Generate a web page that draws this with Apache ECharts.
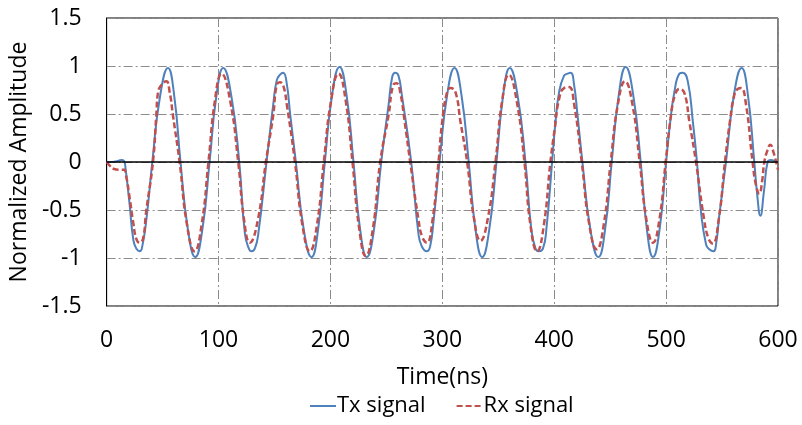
<!DOCTYPE html>
<html>
<head>
<meta charset="utf-8">
<script src="https://cdn.jsdelivr.net/npm/echarts@6/dist/echarts.min.js"></script>
<style>
html,body{margin:0;padding:0;background:#fff;}
#chart{width:802px;height:425px;}
</style>
</head>
<body>
<div id="chart"></div>
<script>
// Time axis (ns) ticks and amplitude ticks
const xTicks = [0, 100, 200, 300, 400, 500, 600];
const yTicks = [-1.5, -1, -0.5, 0, 0.5, 1, 1.5];
const seriesNames = ['Tx signal', 'Rx signal'];

// Tx signal: [time ns, normalized amplitude]
const txSignal = [
  [0,0],[5,0],[10,0.01],[13,0.02],[15.5,0.01],[17,-0.08],[20.5,-0.44],[24,-0.82],[27,-0.91],[29.5,-0.93],[31.5,-0.9],[35.5,-0.6],[40.8,0],
  [47.8,0.69],[54.8,0.98],[60.4,0.69],[66,0],
  [72.6,-0.7],[79.2,-0.99],[85.6,-0.7],[92,0],
  [98.1,0.69],[104.2,0.98],[111.4,0.69],[118.5,0],
  [123.6,-0.75],[127.4,-0.91],[129.5,-0.93],[132.5,-0.9],[135.5,-0.75],[142.9,0],
  [148.9,0.6],[152,0.85],[155,0.91],[157.8,0.93],[160.8,0.83],[164,0.5],[169.1,0],
  [176.1,-0.7],[183.1,-0.99],[189,-0.7],[195,0],
  [201.5,0.7],[208.1,0.99],[214.4,0.7],[220.6,0],
  [226.5,-0.7],[232.5,-0.99],[239,-0.7],[245.4,0],
  [252,0.6],[255.3,0.89],[257.9,0.93],[260.8,0.9],[263.8,0.7],[272.2,0],
  [278.7,-0.75],[281.7,-0.88],[286.1,-0.93],[289.1,-0.88],[292.1,-0.62],[297.5,0],
  [304.2,0.69],[310.9,0.98],[317.2,0.69],[323.6,0],
  [329.6,-0.7],[335.6,-0.99],[342,-0.7],[348.4,0],
  [354.3,0.69],[360.3,0.98],[367.3,0.69],[374.3,0],
  [379.5,-0.7],[383.2,-0.9],[386.2,-0.93],[390,-0.9],[393,-0.7],[398.1,0],
  [401,0.4],[404.4,0.73],[408.8,0.9],[412,0.92],[414.8,0.93],[417.8,0.8],[420.8,0.49],[425.2,0],
  [432.3,-0.7],[439.5,-0.99],[445.5,-0.7],[451.4,0],
  [457.7,0.7],[463.9,0.99],[470.6,0.7],[477.3,0],
  [482.8,-0.7],[488.3,-0.99],[494.2,-0.7],[500,0],
  [503.5,0.4],[507.4,0.73],[511.9,0.92],[514.9,0.93],[519.4,0.84],[523.9,0.42],[527.6,0],
  [531,-0.5],[535.7,-0.86],[538.6,-0.91],[542.5,-0.93],[544.6,-0.86],[547.6,-0.55],[553.5,0],
  [560.5,0.69],[567.5,0.98],[573.2,0.69],[578.8,0],
  [581.5,-0.35],[584.2,-0.56],[587.5,-0.3],[590.7,0],
  [593.7,0.02],[597,0.01],[600,-0.01]
];

// Rx signal: [time ns, normalized amplitude]
const rxSignal = [
  [0,0],[3,-0.04],[6,-0.07],[12,-0.08],[15.5,-0.08],[17.5,-0.15],[20.5,-0.37],[24,-0.65],[26.5,-0.8],[29.5,-0.84],[32.5,-0.8],[35.4,-0.51],[41.4,0],
  [44.4,0.49],[46,0.73],[48.8,0.8],[53.3,0.84],[56.3,0.73],[59.2,0.49],[65.2,0],
  [71.9,-0.66],[78.6,-0.93],[84.8,-0.66],[91,0],
  [96.9,0.65],[102.7,0.92],[110.2,0.65],[117.6,0],
  [122.8,-0.6],[128,-0.84],[135.2,-0.6],[142.3,0],
  [148.9,0.49],[152,0.8],[155,0.83],[158,0.79],[161,0.6],[168.3,0],
  [175,-0.66],[181.6,-0.93],[187.9,-0.66],[194.1,0],
  [200.7,0.65],[207.2,0.92],[213.5,0.65],[219.7,0],
  [225.7,-0.69],[231.6,-0.98],[238,-0.69],[244.5,0],
  [252,0.49],[256,0.8],[259.2,0.82],[262.5,0.72],[266,0.45],[271.3,0],
  [278.7,-0.6],[282,-0.78],[286.1,-0.84],[291.3,-0.6],[296.6,0],
  [299.9,0.42],[304.3,0.73],[307.3,0.77],[311.7,0.73],[316.2,0.42],[322.2,0],
  [328.2,-0.58],[334.1,-0.82],[340.8,-0.58],[347.5,0],
  [353.5,0.64],[359.4,0.91],[366.4,0.64],[373.4,0],
  [378.8,-0.66],[384.7,-0.93],[390.7,-0.66],[396.6,0],
  [400.5,0.35],[404.4,0.66],[408.8,0.77],[413.3,0.78],[417.8,0.6],[424.6,0],
  [431.3,-0.65],[438,-0.91],[444.3,-0.65],[450.5,0],
  [456.9,0.6],[463.3,0.84],[469.9,0.6],[476.4,0],
  [482.4,-0.6],[488.3,-0.84],[494,-0.6],[499.6,0],
  [504.4,0.49],[508,0.7],[511.9,0.76],[516.3,0.72],[520.8,0.42],[526.7,0],
  [534,-0.6],[538,-0.8],[541.6,-0.85],[547,-0.6],[552.6,0],
  [557,0.42],[561,0.7],[564,0.76],[567,0.77],[571.4,0.6],[577.3,0],
  [580.3,-0.24],[583.3,-0.33],[585.8,-0.2],[587.8,0],
  [590.5,0.12],[593.1,0.18],[596,0.1],[600,-0.08]
];

const FONT = 'Open Sans';
const FS = 23;
const gridDash = [9, 3, 2, 3];
const chart = echarts.init(document.getElementById('chart'), null, {renderer: 'canvas'});
chart.setOption({
  animation: false,
  backgroundColor: '#ffffff',
  grid: {left: 106, right: 24, top: 18, bottom: 119, show: true, borderColor: '#000', borderWidth: 1, containLabel: false},
  legend: {
    top: 390, left: 304,
    itemWidth: 26, itemHeight: 12, itemGap: 30,
    itemStyle: {opacity: 0},
    textStyle: {fontFamily: FONT, fontSize: 22, color: '#000', padding: [0, 0, 0, -4]},
    data: seriesNames
  },
  xAxis: {
    type: 'value',
    min: xTicks[0], max: xTicks[xTicks.length - 1], interval: 100,
    name: 'Time(ns)', nameLocation: 'middle', nameGap: 60,
    nameTextStyle: {fontFamily: FONT, fontSize: FS, color: '#000'},
    axisLine: {show: false, onZero: false},
    axisTick: {show: false},
    axisLabel: {fontFamily: FONT, fontSize: FS, color: '#000', margin: 23},
    splitLine: {show: true, lineStyle: {color: '#8c8c8c', width: 1, type: gridDash}}
  },
  yAxis: {
    type: 'value',
    min: yTicks[0], max: yTicks[yTicks.length - 1], interval: 0.5,
    name: 'Normalized Amplitude', nameLocation: 'middle', nameGap: 72,
    nameTextStyle: {fontFamily: FONT, fontSize: FS, color: '#000'},
    axisLine: {show: true, lineStyle: {color: '#000', width: 1}},
    axisTick: {show: false},
    axisLabel: {fontFamily: FONT, fontSize: FS, color: '#000', margin: 25},
    splitLine: {show: true, lineStyle: {color: '#8c8c8c', width: 1, type: gridDash}}
  },
  series: [
    {
      name: seriesNames[0], type: 'line', data: txSignal, smooth: 0.5,
      symbol: 'none', showSymbol: false,
      lineStyle: {color: '#4F81BD', width: 2},
      itemStyle: {color: '#4F81BD'},
      markLine: {
        silent: true, symbol: 'none', label: {show: false},
        lineStyle: {color: '#000', width: 1.5, type: 'solid'},
        data: [{yAxis: 0}]
      },
      z: 3
    },
    {
      name: seriesNames[1], type: 'line', data: rxSignal, smooth: 0.5,
      symbol: 'none', showSymbol: false,
      lineStyle: {color: '#C0504D', width: 2.5, type: [6, 3]},
      itemStyle: {color: '#C0504D'},
      z: 4
    }
  ]
});
</script>
</body>
</html>
